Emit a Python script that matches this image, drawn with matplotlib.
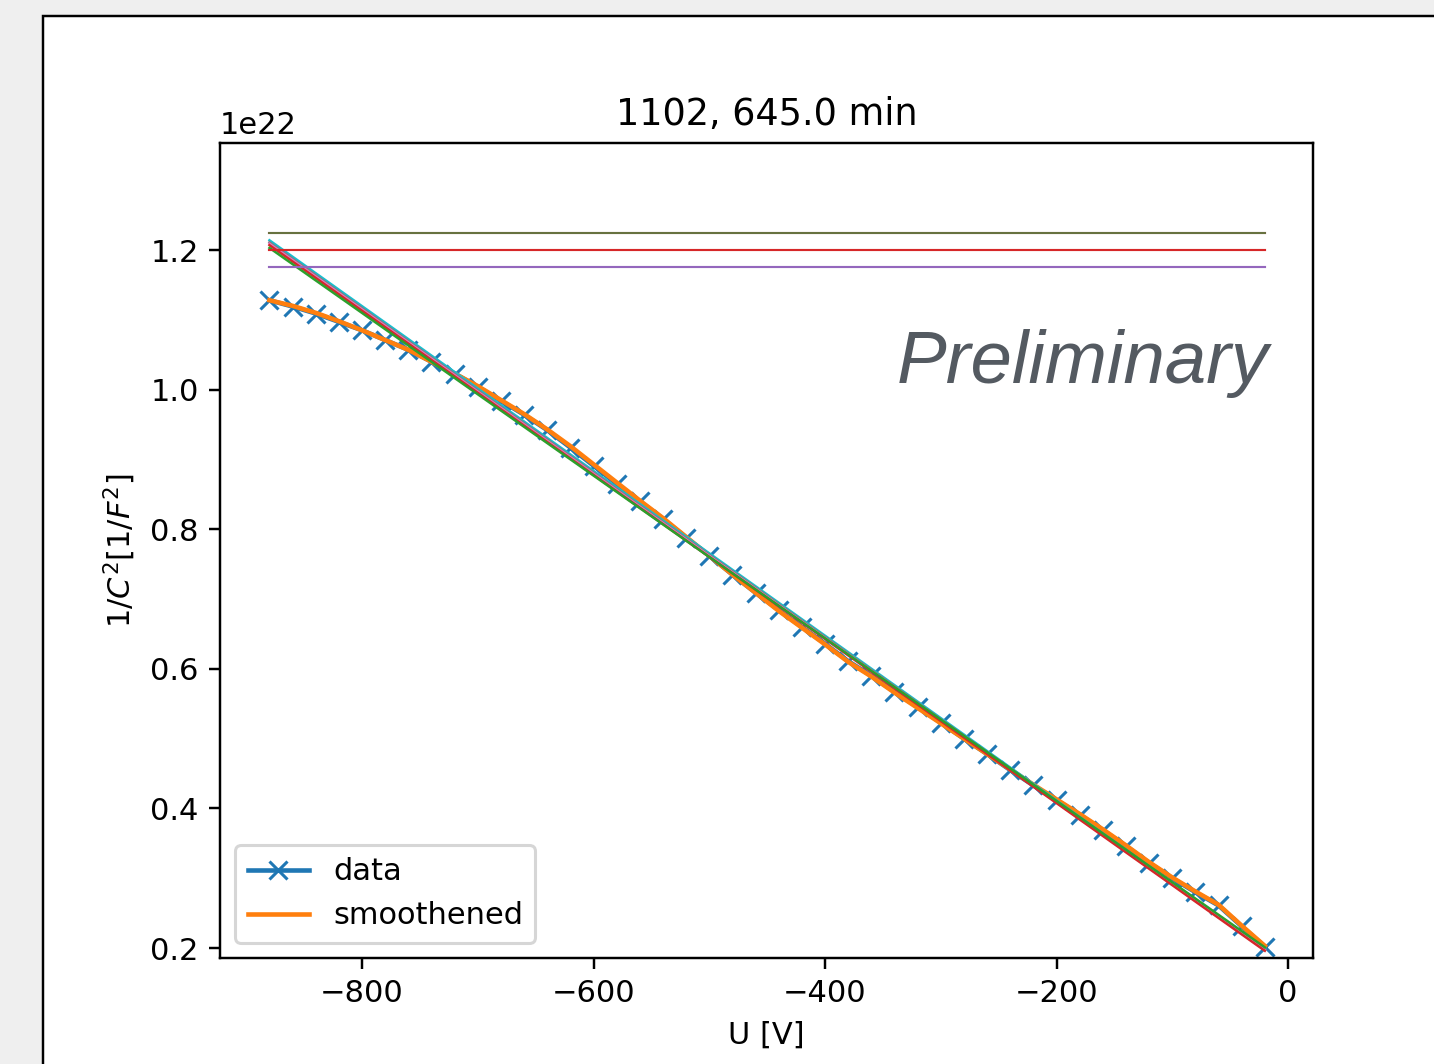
import matplotlib
matplotlib.use("Agg")
import matplotlib.pyplot as plt
from matplotlib.patches import Rectangle

# measured voltages [V]
voltage = [-880, -860, -840, -820, -800, -780, -760, -740, -720, -700,
           -680, -660, -640, -620, -600, -580, -560, -540, -520, -500,
           -480, -460, -440, -420, -400, -380, -360, -340, -320, -300,
           -280, -260, -240, -220, -200, -180, -160, -140, -120, -100,
           -80, -60, -40, -20]

# 1/C^2 in units of 1e22 1/F^2
inv_c2 = [1.128, 1.119, 1.109, 1.097, 1.085, 1.071, 1.057, 1.040, 1.023, 1.004,
          0.984, 0.964, 0.942, 0.917, 0.891, 0.865, 0.840, 0.815, 0.788, 0.762,
          0.735, 0.709, 0.684, 0.660, 0.636, 0.611, 0.590, 0.567, 0.545, 0.523,
          0.500, 0.478, 0.455, 0.433, 0.412, 0.391, 0.369, 0.346, 0.322, 0.300,
          0.280, 0.261, 0.231, 0.202]

inv_c2_smooth = [1.128, 1.120, 1.110, 1.098, 1.085, 1.071, 1.057, 1.040, 1.023, 1.005,
                 0.985, 0.965, 0.943, 0.919, 0.893, 0.867, 0.841, 0.816, 0.789, 0.762,
                 0.735, 0.709, 0.683, 0.659, 0.635, 0.610, 0.589, 0.566, 0.544, 0.522,
                 0.500, 0.478, 0.456, 0.434, 0.413, 0.392, 0.370, 0.347, 0.323, 0.301,
                 0.281, 0.262, 0.232, 0.203]

# linear fits, end points
fit_u = [-880, -20]
fits = {
    "#17becf": [1.214, 0.199],
    "#7f7f7f": [1.211, 0.198],
    "#e377c2": [1.209, 0.197],
    "#d62728": [1.207, 0.196],
    "#2ca02c": [1.203, 0.201],
}

# horizontal reference levels
levels = {
    "#8c564b": 1.224,
    "#d62728": 1.200,
    "#9467bd": 1.176,
}

W, H, DPI = 1434, 1064, 220
fig = plt.figure(figsize=(W / DPI, H / DPI), dpi=DPI, facecolor="#efefef")

# white notebook panel with black frame
fig.add_artist(Rectangle((43 / W, -0.05), 1.1, 1.05 - 16 / H,
                         transform=fig.transFigure, facecolor="white",
                         edgecolor="black", linewidth=0.8, zorder=-5))

ax = fig.add_axes([220 / W, 106 / H, (1313 - 220) / W, (958 - 143) / H])
ax.set_zorder(1)

scale = 1e22
ax.plot(voltage, [v * scale for v in inv_c2], marker="x", label="data")
ax.plot(voltage, [v * scale for v in inv_c2_smooth], label="smoothened")
for color, (a, b) in fits.items():
    ax.plot(fit_u, [a * scale, b * scale], color=color, linewidth=0.8)
for color, lvl in levels.items():
    ax.plot(fit_u, [lvl * scale, lvl * scale], color=color, linewidth=0.7)
ax.plot(fit_u, [1.2245 * scale, 1.2245 * scale], color="#2ca02c", linewidth=0.5, alpha=0.5)

ax.set_xlim(-922.7, 21.6)
ax.set_ylim(0.1857 * scale, 1.3533 * scale)

ax.set_title("1102, 645.0 min")
ax.set_xlabel("U [V]")
ax.set_ylabel("$1/C^2 [1/F^2]$")
ax.legend(loc="lower left")

ax.text(0.96, 0.705, "Preliminary", transform=ax.transAxes, ha="right",
        va="baseline", fontsize=24.4, style="italic", family="Liberation Sans",
        color="#545a61")

fig.savefig("out.png", dpi=DPI, facecolor=fig.get_facecolor())
